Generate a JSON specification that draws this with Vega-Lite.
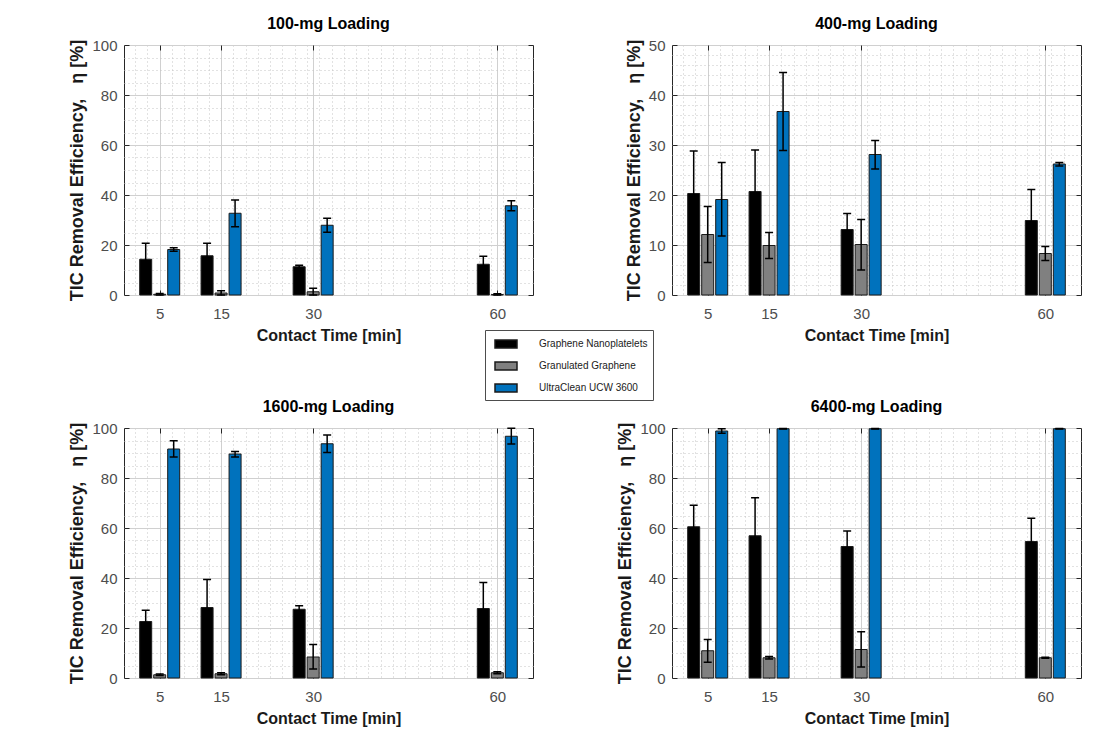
{
  "$schema": "https://vega.github.io/schema/vega-lite/v6.json",
  "padding": {"left": 68, "top": 15, "right": 5, "bottom": 5},
  "background": "white",
  "datasets": {
    "bars": [
      {"panel": "100-mg Loading", "time": 5, "material": "Graphene Nanoplatelets", "value": 14.3, "lo": 7.9, "hi": 20.7},
      {"panel": "100-mg Loading", "time": 5, "material": "Granulated Graphene", "value": 0.3, "lo": 0.0, "hi": 0.6},
      {"panel": "100-mg Loading", "time": 5, "material": "UltraClean UCW 3600", "value": 18.2, "lo": 17.5, "hi": 18.9},
      {"panel": "100-mg Loading", "time": 15, "material": "Graphene Nanoplatelets", "value": 15.7, "lo": 10.7, "hi": 20.7},
      {"panel": "100-mg Loading", "time": 15, "material": "Granulated Graphene", "value": 0.8, "lo": 0.0, "hi": 1.7},
      {"panel": "100-mg Loading", "time": 15, "material": "UltraClean UCW 3600", "value": 32.7, "lo": 27.3, "hi": 38.0},
      {"panel": "100-mg Loading", "time": 30, "material": "Graphene Nanoplatelets", "value": 11.3, "lo": 10.7, "hi": 11.9},
      {"panel": "100-mg Loading", "time": 30, "material": "Granulated Graphene", "value": 1.3, "lo": 0.0, "hi": 2.7},
      {"panel": "100-mg Loading", "time": 30, "material": "UltraClean UCW 3600", "value": 27.9, "lo": 25.1, "hi": 30.7},
      {"panel": "100-mg Loading", "time": 60, "material": "Graphene Nanoplatelets", "value": 12.3, "lo": 9.1, "hi": 15.5},
      {"panel": "100-mg Loading", "time": 60, "material": "Granulated Graphene", "value": 0.2, "lo": 0.0, "hi": 0.5},
      {"panel": "100-mg Loading", "time": 60, "material": "UltraClean UCW 3600", "value": 35.7, "lo": 33.7, "hi": 37.7},

      {"panel": "400-mg Loading", "time": 5, "material": "Graphene Nanoplatelets", "value": 20.3, "lo": 11.8, "hi": 28.8},
      {"panel": "400-mg Loading", "time": 5, "material": "Granulated Graphene", "value": 12.1, "lo": 6.5, "hi": 17.7},
      {"panel": "400-mg Loading", "time": 5, "material": "UltraClean UCW 3600", "value": 19.1, "lo": 11.8, "hi": 26.5},
      {"panel": "400-mg Loading", "time": 15, "material": "Graphene Nanoplatelets", "value": 20.7, "lo": 12.4, "hi": 29.0},
      {"panel": "400-mg Loading", "time": 15, "material": "Granulated Graphene", "value": 9.9, "lo": 7.3, "hi": 12.5},
      {"panel": "400-mg Loading", "time": 15, "material": "UltraClean UCW 3600", "value": 36.7, "lo": 28.9, "hi": 44.5},
      {"panel": "400-mg Loading", "time": 30, "material": "Graphene Nanoplatelets", "value": 13.1, "lo": 9.9, "hi": 16.3},
      {"panel": "400-mg Loading", "time": 30, "material": "Granulated Graphene", "value": 10.1, "lo": 5.0, "hi": 15.1},
      {"panel": "400-mg Loading", "time": 30, "material": "UltraClean UCW 3600", "value": 28.1, "lo": 25.2, "hi": 30.9},
      {"panel": "400-mg Loading", "time": 60, "material": "Graphene Nanoplatelets", "value": 14.9, "lo": 8.7, "hi": 21.1},
      {"panel": "400-mg Loading", "time": 60, "material": "Granulated Graphene", "value": 8.3, "lo": 6.9, "hi": 9.7},
      {"panel": "400-mg Loading", "time": 60, "material": "UltraClean UCW 3600", "value": 26.2, "lo": 25.8, "hi": 26.5},

      {"panel": "1600-mg Loading", "time": 5, "material": "Graphene Nanoplatelets", "value": 22.6, "lo": 18.1, "hi": 27.1},
      {"panel": "1600-mg Loading", "time": 5, "material": "Granulated Graphene", "value": 1.3, "lo": 1.0, "hi": 1.6},
      {"panel": "1600-mg Loading", "time": 5, "material": "UltraClean UCW 3600", "value": 91.6, "lo": 88.4, "hi": 94.9},
      {"panel": "1600-mg Loading", "time": 15, "material": "Graphene Nanoplatelets", "value": 28.2, "lo": 17.0, "hi": 39.4},
      {"panel": "1600-mg Loading", "time": 15, "material": "Granulated Graphene", "value": 1.7, "lo": 1.3, "hi": 2.1},
      {"panel": "1600-mg Loading", "time": 15, "material": "UltraClean UCW 3600", "value": 89.6, "lo": 88.4, "hi": 90.6},
      {"panel": "1600-mg Loading", "time": 30, "material": "Graphene Nanoplatelets", "value": 27.5, "lo": 26.1, "hi": 28.9},
      {"panel": "1600-mg Loading", "time": 30, "material": "Granulated Graphene", "value": 8.4, "lo": 3.6, "hi": 13.4},
      {"panel": "1600-mg Loading", "time": 30, "material": "UltraClean UCW 3600", "value": 93.7, "lo": 90.2, "hi": 97.2},
      {"panel": "1600-mg Loading", "time": 60, "material": "Graphene Nanoplatelets", "value": 27.8, "lo": 17.2, "hi": 38.2},
      {"panel": "1600-mg Loading", "time": 60, "material": "Granulated Graphene", "value": 2.1, "lo": 1.7, "hi": 2.5},
      {"panel": "1600-mg Loading", "time": 60, "material": "UltraClean UCW 3600", "value": 96.7, "lo": 93.6, "hi": 99.9},

      {"panel": "6400-mg Loading", "time": 5, "material": "Graphene Nanoplatelets", "value": 60.5, "lo": 51.9, "hi": 69.1},
      {"panel": "6400-mg Loading", "time": 5, "material": "Granulated Graphene", "value": 10.9, "lo": 6.3, "hi": 15.4},
      {"panel": "6400-mg Loading", "time": 5, "material": "UltraClean UCW 3600", "value": 98.8, "lo": 97.9, "hi": 99.7},
      {"panel": "6400-mg Loading", "time": 15, "material": "Graphene Nanoplatelets", "value": 56.9, "lo": 41.7, "hi": 72.1},
      {"panel": "6400-mg Loading", "time": 15, "material": "Granulated Graphene", "value": 8.1, "lo": 7.6, "hi": 8.6},
      {"panel": "6400-mg Loading", "time": 15, "material": "UltraClean UCW 3600", "value": 99.7, "lo": 99.6, "hi": 99.8},
      {"panel": "6400-mg Loading", "time": 30, "material": "Graphene Nanoplatelets", "value": 52.6, "lo": 46.4, "hi": 58.8},
      {"panel": "6400-mg Loading", "time": 30, "material": "Granulated Graphene", "value": 11.4, "lo": 4.4, "hi": 18.5},
      {"panel": "6400-mg Loading", "time": 30, "material": "UltraClean UCW 3600", "value": 99.7, "lo": 99.6, "hi": 99.8},
      {"panel": "6400-mg Loading", "time": 60, "material": "Graphene Nanoplatelets", "value": 54.6, "lo": 45.3, "hi": 63.9},
      {"panel": "6400-mg Loading", "time": 60, "material": "Granulated Graphene", "value": 8.1, "lo": 7.9, "hi": 8.3},
      {"panel": "6400-mg Loading", "time": 60, "material": "UltraClean UCW 3600", "value": 99.7, "lo": 99.6, "hi": 99.8}
    ]
  },
  "data": {"name": "bars"},
  "columns": 2,
  "spacing": {"row": 133, "column": 139},
  "bounds": "flush",
  "config": {
    "font": "Liberation Sans, Arial, sans-serif",
    "view": {"stroke": "#262626", "strokeWidth": 1},
    "title": {"fontSize": 16, "fontWeight": "bold", "color": "#000000", "offset": 6},
    "axis": {
      "labelFontSize": 15, "labelColor": "#4d4d4d", "labelFlush": false,
      "titleFontSize": 16, "titleFontWeight": "bold", "titleColor": "#1a1a1a",
      "domain": false, "ticks": false, "gridWidth": 1, "tickColor": "#262626", "tickWidth": 1
    },
    "axisX": {"labelPadding": 11, "titlePadding": 6},
    "axisY": {"labelPadding": 7, "titlePadding": 5, "titleFontSize": 18},
    "legend": {
      "orient": "none", "legendX": 361, "legendY": 285,
      "symbolType": "M-0.5,-0.5H2.25V0.5H-0.5Z", "symbolSize": 256,
      "symbolStrokeColor": "#1a1a1a", "symbolStrokeWidth": 1.5, "symbolOpacity": 1,
      "labelFont": "Liberation Sans, Arial, sans-serif", "labelFontSize": 10, "labelColor": "#1a1a1a",
      "labelOffset": 31, "rowPadding": 6, "padding": 5,
      "strokeColor": "#4d4d4d", "fillColor": "white"
    }
  },
  "concat": [
    {
      "width": 409, "height": 250,
      "title": "100-mg Loading",
      "transform": [{"filter": "datum.panel === '100-mg Loading'"}],
      "resolve": {"axis": {"x": "independent", "y": "independent"}},
      "layer": [
        {"mark": {"type": "bar", "orient": "vertical", "width": 12, "stroke": "#1a1a1a", "strokeWidth": 1,
            "xOffset": {"expr": "datum.material === 'Graphene Nanoplatelets' ? -14 : (datum.material === 'Granulated Graphene' ? 0 : 14)"}},
          "encoding": {
            "x": {"field": "time", "type": "quantitative", "title": "Contact Time [min]", "scale": {"domain": [0, 65], "nice": false},
              "axis": {"orient": "bottom", "values": [5, 15, 30, 60], "grid": true, "gridColor": "#d0d0d0", "ticks": true, "tickSize": -5, "labelPadding": 16}},
            "y": {"field": "value", "type": "quantitative", "stack": null, "title": "TIC Removal Efficiency,\u00a0\u00a0\u00a0η [%]",
              "scale": {"domain": [0, 100], "nice": false},
              "axis": {"orient": "left", "values": [0, 20, 40, 60, 80, 100], "grid": true, "gridColor": "#d0d0d0", "ticks": true, "tickSize": -5, "labelPadding": 12}},
            "fill": {"field": "material", "type": "nominal", "title": null,
              "scale": {"domain": ["Graphene Nanoplatelets", "Granulated Graphene", "UltraClean UCW 3600"], "range": ["#000000", "#808080", "#0072bd"]}}
          }},
        {"mark": {"type": "rule", "color": "#000000", "strokeWidth": 1.5,
            "xOffset": {"expr": "datum.material === 'Graphene Nanoplatelets' ? -14 : (datum.material === 'Granulated Graphene' ? 0 : 14)"}},
          "encoding": {
            "x": {"field": "time", "type": "quantitative",
              "axis": {"orient": "bottom", "title": null, "values": [1,3,7,9,11,13,17,19,21,23,25,27,29,31,33,35,37,39,41,43,45,47,49,51,53,55,57,59,61,63], "labels": false, "ticks": false, "grid": true, "gridDash": [1, 3], "gridColor": "#c4c4c4"}},
            "y": {"field": "lo", "type": "quantitative",
              "axis": {"orient": "left", "title": null, "values": [5,10,15,25,30,35,45,50,55,65,70,75,85,90,95], "labels": false, "ticks": false, "grid": true, "gridDash": [1, 3], "gridColor": "#c4c4c4"}},
            "y2": {"field": "hi"}}},
        {"mark": {"type": "tick", "orient": "horizontal", "size": 8, "thickness": 1.5, "color": "#000000", "opacity": 1,
            "xOffset": {"expr": "datum.material === 'Graphene Nanoplatelets' ? -14 : (datum.material === 'Granulated Graphene' ? 0 : 14)"}},
          "encoding": {
            "x": {"field": "time", "type": "quantitative",
              "axis": {"orient": "top", "title": null, "values": [5, 15, 30, 60], "labels": false, "ticks": true, "tickSize": -5, "grid": false}},
            "y": {"field": "hi", "type": "quantitative",
              "axis": {"orient": "right", "title": null, "values": [0, 20, 40, 60, 80, 100], "labels": false, "ticks": true, "tickSize": -5, "grid": false}}}},
        {"mark": {"type": "tick", "orient": "horizontal", "size": 8, "thickness": 1.5, "color": "#000000", "opacity": 1,
            "xOffset": {"expr": "datum.material === 'Graphene Nanoplatelets' ? -14 : (datum.material === 'Granulated Graphene' ? 0 : 14)"}},
          "encoding": {
            "x": {"field": "time", "type": "quantitative", "axis": null},
            "y": {"field": "lo", "type": "quantitative", "axis": null}}}
      ]
    },
    {
      "width": 409, "height": 250,
      "title": "400-mg Loading",
      "transform": [{"filter": "datum.panel === '400-mg Loading'"}],
      "resolve": {"axis": {"x": "independent", "y": "independent"}},
      "layer": [
        {"mark": {"type": "bar", "orient": "vertical", "width": 12, "stroke": "#1a1a1a", "strokeWidth": 1,
            "xOffset": {"expr": "datum.material === 'Graphene Nanoplatelets' ? -14 : (datum.material === 'Granulated Graphene' ? 0 : 14)"}},
          "encoding": {
            "x": {"field": "time", "type": "quantitative", "title": "Contact Time [min]", "scale": {"domain": [0, 65], "nice": false},
              "axis": {"orient": "bottom", "values": [5, 15, 30, 60], "grid": true, "gridColor": "#d0d0d0", "ticks": true, "tickSize": -5, "labelPadding": 16}},
            "y": {"field": "value", "type": "quantitative", "stack": null, "title": "TIC Removal Efficiency,\u00a0\u00a0\u00a0η [%]",
              "scale": {"domain": [0, 50], "nice": false},
              "axis": {"orient": "left", "values": [0, 10, 20, 30, 40, 50], "grid": true, "gridColor": "#d0d0d0", "ticks": true, "tickSize": -5, "labelPadding": 12}},
            "fill": {"field": "material", "type": "nominal", "title": null,
              "scale": {"domain": ["Graphene Nanoplatelets", "Granulated Graphene", "UltraClean UCW 3600"], "range": ["#000000", "#808080", "#0072bd"]}}
          }},
        {"mark": {"type": "rule", "color": "#000000", "strokeWidth": 1.5,
            "xOffset": {"expr": "datum.material === 'Graphene Nanoplatelets' ? -14 : (datum.material === 'Granulated Graphene' ? 0 : 14)"}},
          "encoding": {
            "x": {"field": "time", "type": "quantitative",
              "axis": {"orient": "bottom", "title": null, "values": [1,3,7,9,11,13,17,19,21,23,25,27,29,31,33,35,37,39,41,43,45,47,49,51,53,55,57,59,61,63], "labels": false, "ticks": false, "grid": true, "gridDash": [1, 3], "gridColor": "#c4c4c4"}},
            "y": {"field": "lo", "type": "quantitative",
              "axis": {"orient": "left", "title": null, "values": [2,4,6,8,12,14,16,18,22,24,26,28,32,34,36,38,42,44,46,48], "labels": false, "ticks": false, "grid": true, "gridDash": [1, 3], "gridColor": "#c4c4c4"}},
            "y2": {"field": "hi"}}},
        {"mark": {"type": "tick", "orient": "horizontal", "size": 8, "thickness": 1.5, "color": "#000000", "opacity": 1,
            "xOffset": {"expr": "datum.material === 'Graphene Nanoplatelets' ? -14 : (datum.material === 'Granulated Graphene' ? 0 : 14)"}},
          "encoding": {
            "x": {"field": "time", "type": "quantitative",
              "axis": {"orient": "top", "title": null, "values": [5, 15, 30, 60], "labels": false, "ticks": true, "tickSize": -5, "grid": false}},
            "y": {"field": "hi", "type": "quantitative",
              "axis": {"orient": "right", "title": null, "values": [0, 10, 20, 30, 40, 50], "labels": false, "ticks": true, "tickSize": -5, "grid": false}}}},
        {"mark": {"type": "tick", "orient": "horizontal", "size": 8, "thickness": 1.5, "color": "#000000", "opacity": 1,
            "xOffset": {"expr": "datum.material === 'Graphene Nanoplatelets' ? -14 : (datum.material === 'Granulated Graphene' ? 0 : 14)"}},
          "encoding": {
            "x": {"field": "time", "type": "quantitative", "axis": null},
            "y": {"field": "lo", "type": "quantitative", "axis": null}}}
      ]
    },
    {
      "width": 409, "height": 250,
      "title": "1600-mg Loading",
      "transform": [{"filter": "datum.panel === '1600-mg Loading'"}],
      "resolve": {"axis": {"x": "independent", "y": "independent"}},
      "layer": [
        {"mark": {"type": "bar", "orient": "vertical", "width": 12, "stroke": "#1a1a1a", "strokeWidth": 1,
            "xOffset": {"expr": "datum.material === 'Graphene Nanoplatelets' ? -14 : (datum.material === 'Granulated Graphene' ? 0 : 14)"}},
          "encoding": {
            "x": {"field": "time", "type": "quantitative", "title": "Contact Time [min]", "scale": {"domain": [0, 65], "nice": false},
              "axis": {"orient": "bottom", "values": [5, 15, 30, 60], "grid": true, "gridColor": "#d0d0d0", "ticks": true, "tickSize": -5, "labelPadding": 16}},
            "y": {"field": "value", "type": "quantitative", "stack": null, "title": "TIC Removal Efficiency,\u00a0\u00a0\u00a0η [%]",
              "scale": {"domain": [0, 100], "nice": false},
              "axis": {"orient": "left", "values": [0, 20, 40, 60, 80, 100], "grid": true, "gridColor": "#d0d0d0", "ticks": true, "tickSize": -5, "labelPadding": 12}},
            "fill": {"field": "material", "type": "nominal", "title": null,
              "scale": {"domain": ["Graphene Nanoplatelets", "Granulated Graphene", "UltraClean UCW 3600"], "range": ["#000000", "#808080", "#0072bd"]}}
          }},
        {"mark": {"type": "rule", "color": "#000000", "strokeWidth": 1.5,
            "xOffset": {"expr": "datum.material === 'Graphene Nanoplatelets' ? -14 : (datum.material === 'Granulated Graphene' ? 0 : 14)"}},
          "encoding": {
            "x": {"field": "time", "type": "quantitative",
              "axis": {"orient": "bottom", "title": null, "values": [1,3,7,9,11,13,17,19,21,23,25,27,29,31,33,35,37,39,41,43,45,47,49,51,53,55,57,59,61,63], "labels": false, "ticks": false, "grid": true, "gridDash": [1, 3], "gridColor": "#c4c4c4"}},
            "y": {"field": "lo", "type": "quantitative",
              "axis": {"orient": "left", "title": null, "values": [5,10,15,25,30,35,45,50,55,65,70,75,85,90,95], "labels": false, "ticks": false, "grid": true, "gridDash": [1, 3], "gridColor": "#c4c4c4"}},
            "y2": {"field": "hi"}}},
        {"mark": {"type": "tick", "orient": "horizontal", "size": 8, "thickness": 1.5, "color": "#000000", "opacity": 1,
            "xOffset": {"expr": "datum.material === 'Graphene Nanoplatelets' ? -14 : (datum.material === 'Granulated Graphene' ? 0 : 14)"}},
          "encoding": {
            "x": {"field": "time", "type": "quantitative",
              "axis": {"orient": "top", "title": null, "values": [5, 15, 30, 60], "labels": false, "ticks": true, "tickSize": -5, "grid": false}},
            "y": {"field": "hi", "type": "quantitative",
              "axis": {"orient": "right", "title": null, "values": [0, 20, 40, 60, 80, 100], "labels": false, "ticks": true, "tickSize": -5, "grid": false}}}},
        {"mark": {"type": "tick", "orient": "horizontal", "size": 8, "thickness": 1.5, "color": "#000000", "opacity": 1,
            "xOffset": {"expr": "datum.material === 'Graphene Nanoplatelets' ? -14 : (datum.material === 'Granulated Graphene' ? 0 : 14)"}},
          "encoding": {
            "x": {"field": "time", "type": "quantitative", "axis": null},
            "y": {"field": "lo", "type": "quantitative", "axis": null}}}
      ]
    },
    {
      "width": 409, "height": 250,
      "title": "6400-mg Loading",
      "transform": [{"filter": "datum.panel === '6400-mg Loading'"}],
      "resolve": {"axis": {"x": "independent", "y": "independent"}},
      "layer": [
        {"mark": {"type": "bar", "orient": "vertical", "width": 12, "stroke": "#1a1a1a", "strokeWidth": 1,
            "xOffset": {"expr": "datum.material === 'Graphene Nanoplatelets' ? -14 : (datum.material === 'Granulated Graphene' ? 0 : 14)"}},
          "encoding": {
            "x": {"field": "time", "type": "quantitative", "title": "Contact Time [min]", "scale": {"domain": [0, 65], "nice": false},
              "axis": {"orient": "bottom", "values": [5, 15, 30, 60], "grid": true, "gridColor": "#d0d0d0", "ticks": true, "tickSize": -5, "labelPadding": 16}},
            "y": {"field": "value", "type": "quantitative", "stack": null, "title": "TIC Removal Efficiency,\u00a0\u00a0\u00a0η [%]",
              "scale": {"domain": [0, 100], "nice": false},
              "axis": {"orient": "left", "values": [0, 20, 40, 60, 80, 100], "grid": true, "gridColor": "#d0d0d0", "ticks": true, "tickSize": -5, "labelPadding": 12}},
            "fill": {"field": "material", "type": "nominal", "title": null,
              "scale": {"domain": ["Graphene Nanoplatelets", "Granulated Graphene", "UltraClean UCW 3600"], "range": ["#000000", "#808080", "#0072bd"]}}
          }},
        {"mark": {"type": "rule", "color": "#000000", "strokeWidth": 1.5,
            "xOffset": {"expr": "datum.material === 'Graphene Nanoplatelets' ? -14 : (datum.material === 'Granulated Graphene' ? 0 : 14)"}},
          "encoding": {
            "x": {"field": "time", "type": "quantitative",
              "axis": {"orient": "bottom", "title": null, "values": [1,3,7,9,11,13,17,19,21,23,25,27,29,31,33,35,37,39,41,43,45,47,49,51,53,55,57,59,61,63], "labels": false, "ticks": false, "grid": true, "gridDash": [1, 3], "gridColor": "#c4c4c4"}},
            "y": {"field": "lo", "type": "quantitative",
              "axis": {"orient": "left", "title": null, "values": [5,10,15,25,30,35,45,50,55,65,70,75,85,90,95], "labels": false, "ticks": false, "grid": true, "gridDash": [1, 3], "gridColor": "#c4c4c4"}},
            "y2": {"field": "hi"}}},
        {"mark": {"type": "tick", "orient": "horizontal", "size": 8, "thickness": 1.5, "color": "#000000", "opacity": 1,
            "xOffset": {"expr": "datum.material === 'Graphene Nanoplatelets' ? -14 : (datum.material === 'Granulated Graphene' ? 0 : 14)"}},
          "encoding": {
            "x": {"field": "time", "type": "quantitative",
              "axis": {"orient": "top", "title": null, "values": [5, 15, 30, 60], "labels": false, "ticks": true, "tickSize": -5, "grid": false}},
            "y": {"field": "hi", "type": "quantitative",
              "axis": {"orient": "right", "title": null, "values": [0, 20, 40, 60, 80, 100], "labels": false, "ticks": true, "tickSize": -5, "grid": false}}}},
        {"mark": {"type": "tick", "orient": "horizontal", "size": 8, "thickness": 1.5, "color": "#000000", "opacity": 1,
            "xOffset": {"expr": "datum.material === 'Graphene Nanoplatelets' ? -14 : (datum.material === 'Granulated Graphene' ? 0 : 14)"}},
          "encoding": {
            "x": {"field": "time", "type": "quantitative", "axis": null},
            "y": {"field": "lo", "type": "quantitative", "axis": null}}}
      ]
    }
  ]
}
